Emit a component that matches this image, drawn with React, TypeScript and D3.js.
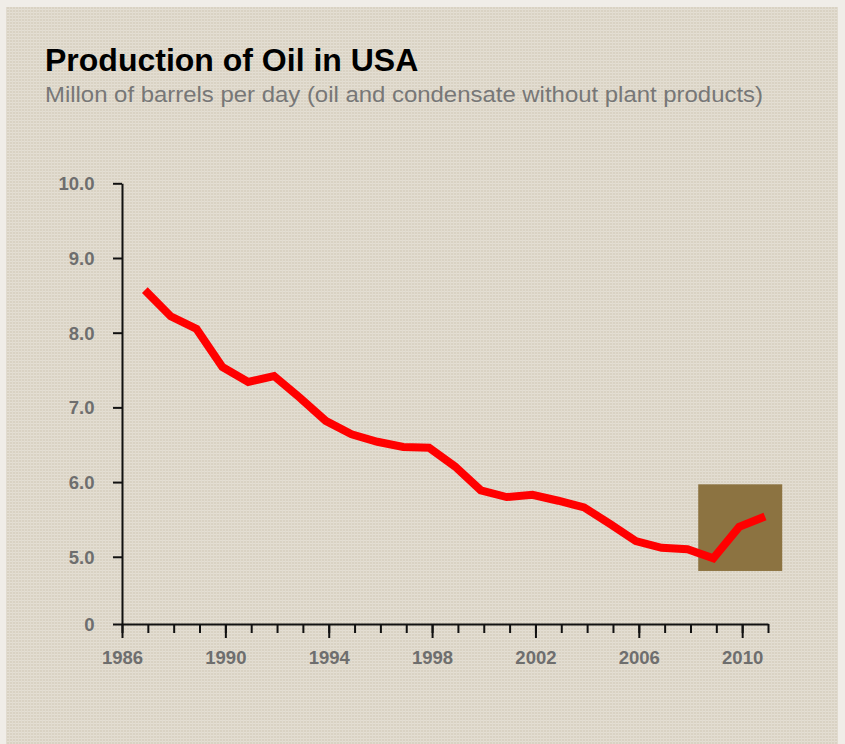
import React, { useEffect, useRef } from "react";
import { select, scaleLinear, axisBottom, axisLeft, line, range } from "d3";

// US oil production, million barrels per day
const years = [
  1987, 1988, 1989, 1990, 1991, 1992, 1993, 1994, 1995, 1996, 1997, 1998, 1999,
  2000, 2001, 2002, 2003, 2004, 2005, 2006, 2007, 2008, 2009, 2010, 2011,
];
const production = [
  8.57, 8.22, 8.05, 7.54, 7.34, 7.42, 7.13, 6.82, 6.64, 6.54, 6.47, 6.46, 6.21,
  5.89, 5.8, 5.83, 5.75, 5.66, 5.44, 5.21, 5.12, 5.1, 4.98, 5.4, 5.54,
];
const yTicks = [5, 6, 7, 8, 9, 10];
const AXIS_FLOOR = 4.1; // broken axis: shown as "0"
const majorYears = [1986, 1990, 1994, 1998, 2002, 2006, 2010];
const highlightYears = [2008.3, 2011.55];
const highlightValues = [4.81, 5.97];

const W = 845;
const H = 744;

const App = () => {
  const svgRef = useRef(null);

  useEffect(() => {
    document.body.style.margin = "0";
    const svg = select(svgRef.current);
    svg.selectAll("*").remove();

    const defs = svg.append("defs");
    const pat = defs
      .append("pattern")
      .attr("id", "paper")
      .attr("width", 3)
      .attr("height", 3)
      .attr("patternUnits", "userSpaceOnUse");
    pat.append("rect").attr("width", 3).attr("height", 3).attr("fill", "#d9d2c3");
    pat.append("rect").attr("width", 3).attr("height", 1).attr("fill", "#e4dfd4");
    pat.append("rect").attr("width", 1).attr("height", 3).attr("fill", "#e1dbcf");

    svg.append("rect").attr("width", W).attr("height", H).attr("fill", "#f0ede8");
    svg
      .append("rect")
      .attr("x", 6)
      .attr("y", 7)
      .attr("width", 832)
      .attr("height", H - 7)
      .attr("fill", "url(#paper)");

    svg
      .append("text")
      .attr("x", 45)
      .attr("y", 71)
      .style("font-family", "'Liberation Sans', Arial, sans-serif")
      .style("font-size", "32px")
      .style("font-weight", "bold")
      .attr("fill", "#000")
      .text("Production of Oil in USA");

    svg
      .append("text")
      .attr("x", 45)
      .attr("y", 102)
      .attr("textLength", 718)
      .attr("lengthAdjust", "spacingAndGlyphs")
      .style("font-family", "'Liberation Sans', Arial, sans-serif")
      .style("font-size", "22.5px")
      .attr("fill", "#777")
      .text("Millon of barrels per day (oil and condensate without plant products)");

    const xScale = scaleLinear().domain([1986, 2011]).range([122, 768]);
    const yScale = scaleLinear().domain([AXIS_FLOOR, 10]).range([624, 183.3]);

    // highlight box
    svg
      .append("rect")
      .attr("x", xScale(highlightYears[0]))
      .attr("y", yScale(highlightValues[1]))
      .attr("width", xScale(highlightYears[1]) - xScale(highlightYears[0]))
      .attr("height", yScale(highlightValues[0]) - yScale(highlightValues[1]))
      .attr("fill", "#8c7341");

    const labelFont = (sel) =>
      sel
        .style("font-family", "'Liberation Sans', Arial, sans-serif")
        .style("font-size", "18.5px")
        .style("font-weight", "bold")
        .attr("fill", "#6e6e6e");

    // y axis
    const yAxis = axisLeft(yScale)
      .tickValues([AXIS_FLOOR, ...yTicks])
      .tickSize(9)
      .tickSizeOuter(0)
      .tickPadding(18.5)
      .tickFormat((d) => (d === AXIS_FLOOR ? "0" : d.toFixed(1)));
    const gy = svg.append("g").attr("transform", "translate(122,0)").call(yAxis);
    gy.selectAll("path, line").attr("stroke", "#111").attr("stroke-width", 2);
    gy.selectAll("text").attr("dy", 6.5).call(labelFont);

    // x axis minor ticks
    const minor = axisBottom(xScale)
      .tickValues(range(1986, 2012))
      .tickSize(9)
      .tickSizeOuter(0)
      .tickFormat(() => "");
    const gxm = svg.append("g").attr("transform", "translate(0,624)").call(minor);
    gxm.selectAll("path, line").attr("stroke", "#111").attr("stroke-width", 2);

    // x axis major ticks
    const major = axisBottom(xScale)
      .tickValues(majorYears)
      .tickSize(14)
      .tickSizeOuter(0)
      .tickFormat((d) => String(d));
    const gx = svg.append("g").attr("transform", "translate(0,624)").call(major);
    gx.select(".domain").remove();
    gx.selectAll("line").attr("stroke", "#111").attr("stroke-width", 2);
    gx.selectAll("text").attr("y", 40).attr("dy", 0).call(labelFont);

    // production line
    const lineGen = line()
      .x((d, i) => xScale(years[i]))
      .y((d) => yScale(d));
    svg
      .append("path")
      .datum(production)
      .attr("transform", "translate(-3,0)")
      .attr("d", lineGen)
      .attr("fill", "none")
      .attr("stroke", "#ff0000")
      .attr("stroke-width", 8)
      .attr("stroke-linejoin", "miter")
      .attr("stroke-linecap", "butt");
  }, []);

  return (
    <svg ref={svgRef} width={W} height={H} style={{ display: "block" }} />
  );
};

export default App;
